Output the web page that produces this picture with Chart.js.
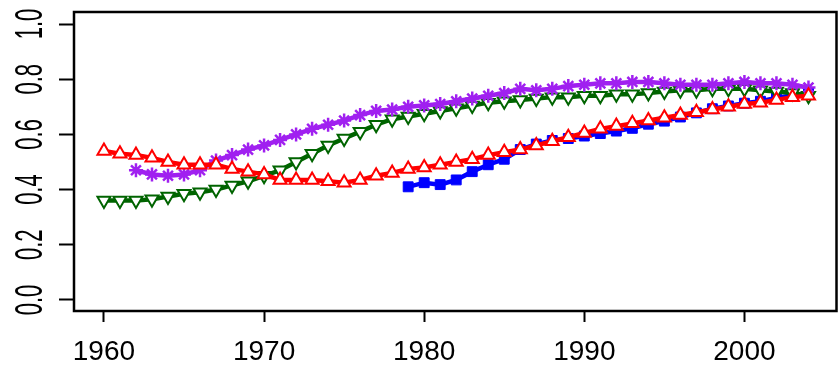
<!DOCTYPE html>
<html>
<head>
<meta charset="utf-8">
<script src="https://cdn.jsdelivr.net/npm/chart.js@4.4.1/dist/chart.umd.min.js"></script>
<style>
  html, body { margin: 0; padding: 0; background: #fff; overflow: hidden; }
  canvas { display: block; }
</style>
</head>
<body>
<canvas id="chart" width="846" height="367"></canvas>
<script>
// Four yearly series, 1960-2004 (null = no observation that year)
const years = [
  1960, 1961, 1962, 1963, 1964, 1965, 1966, 1967, 1968, 1969,
  1970, 1971, 1972, 1973, 1974, 1975, 1976, 1977, 1978, 1979,
  1980, 1981, 1982, 1983, 1984, 1985, 1986, 1987, 1988, 1989,
  1990, 1991, 1992, 1993, 1994, 1995, 1996, 1997, 1998, 1999,
  2000, 2001, 2002, 2003, 2004
];

const redSeries = [
  0.54, 0.53, 0.525, 0.515, 0.50, 0.49, 0.49, 0.49, 0.475, 0.465,
  0.455, 0.435, 0.435, 0.435, 0.43, 0.425, 0.435, 0.45, 0.46, 0.475,
  0.48, 0.49, 0.50, 0.51, 0.525, 0.535, 0.545, 0.56, 0.575, 0.59,
  0.605, 0.62, 0.63, 0.64, 0.65, 0.66, 0.67, 0.68, 0.69, 0.70,
  0.71, 0.715, 0.725, 0.735, 0.74
];

const greenSeries = [
  0.36, 0.36, 0.36, 0.365, 0.375, 0.385, 0.39, 0.40, 0.415, 0.43,
  0.45, 0.47, 0.50, 0.53, 0.56, 0.585, 0.61, 0.635, 0.655, 0.665,
  0.675, 0.685, 0.695, 0.705, 0.715, 0.72, 0.725, 0.73, 0.735, 0.735,
  0.74, 0.74, 0.745, 0.745, 0.75, 0.755, 0.76, 0.76, 0.765, 0.765,
  0.765, 0.76, 0.755, 0.75, 0.74
];

const purpleSeries = [
  null, null, 0.47, 0.455, 0.45, 0.455, 0.47, 0.505, 0.525, 0.545,
  0.56, 0.58, 0.60, 0.62, 0.635, 0.65, 0.67, 0.685, 0.69, 0.70,
  0.705, 0.71, 0.72, 0.73, 0.74, 0.75, 0.765, 0.76, 0.765, 0.775,
  0.78, 0.785, 0.785, 0.79, 0.79, 0.785, 0.78, 0.78, 0.78, 0.785,
  0.79, 0.785, 0.785, 0.78, 0.77
];

const blueSeries = [
  null, null, null, null, null, null, null, null, null, null,
  null, null, null, null, null, null, null, null, null, 0.41,
  0.425, 0.418, 0.435, 0.465, 0.49, 0.51, 0.545, 0.565, 0.578, 0.585,
  0.594, 0.603, 0.612, 0.622, 0.637, 0.648, 0.663, 0.678, 0.693, 0.703,
  0.713, 0.72, 0.732, 0.742, 0.75
];

const xTicks = [1960, 1970, 1980, 1990, 2000];
const xTickLabels = ["1960", "1970", "1980", "1990", "2000"];
const yTicks = [0, 0.2, 0.4, 0.6, 0.8, 1.0];
const yTickLabels = ["0.0", "0.2", "0.4", "0.6", "0.8", "1.0"];

function points(values) {
  return years.map((yr, i) => ({ x: yr, y: values[i] })).filter((p) => p.y != null);
}

// --- datasets (first one is drawn on top) ---
const datasets = [
  {
    data: points(redSeries),
    borderColor: "#ff0000",
    backgroundColor: "#ffffff",
    borderWidth: 4.5,
    pointStyle: "triangle",
    pointRadius: 7.5,
    pointBorderWidth: 2,
    pointBackgroundColor: "#ffffff",
  },
  {
    data: points(purpleSeries),
    borderColor: "#a020f0",
    backgroundColor: "#a020f0",
    borderWidth: 4.5,
    pointStyle: "star",
    pointRadius: 7,
    pointBorderWidth: 2.5,
  },
  {
    data: points(greenSeries),
    borderColor: "#006400",
    backgroundColor: "#ffffff",
    borderWidth: 4.5,
    pointStyle: "triangle",
    pointRotation: 180,
    pointRadius: 7.5,
    pointBorderWidth: 2,
    pointBackgroundColor: "#ffffff",
  },
  {
    data: points(blueSeries),
    borderColor: "#0000ff",
    backgroundColor: "#0000ff",
    borderWidth: 4.5,
    pointStyle: "rect",
    pointRadius: 7,
    pointBorderWidth: 1,
    pointBackgroundColor: "#0000ff",
  },
];

// frame box + tick labels (R-style)
const framePlugin = {
  id: "frame",
  afterDraw(chart) {
    const { ctx, chartArea: a, scales } = chart;
    ctx.save();
    ctx.strokeStyle = "#000";
    ctx.lineWidth = 2.5;
    ctx.strokeRect(a.left, a.top, a.right - a.left, a.bottom - a.top);

    ctx.fillStyle = "#000";
    ctx.font = '28px "Liberation Sans"';
    ctx.textAlign = "center";
    ctx.textBaseline = "alphabetic";
    xTicks.forEach((v, i) => {
      ctx.fillText(xTickLabels[i], scales.x.getPixelForValue(v), 360);
    });

    const F = 22;
    ctx.font = F + 'px "Liberation Sans"';
    yTicks.forEach((v, i) => {
      ctx.save();
      ctx.translate(28, scales.y.getPixelForValue(v));
      ctx.rotate(-Math.PI / 2);
      ctx.scale(1, 1.75);
      ctx.fillText(yTickLabels[i], 0, 0.358 * F);
      ctx.restore();
    });
    ctx.restore();
  },
};

new Chart(document.getElementById("chart"), {
  type: "line",
  data: { datasets },
  plugins: [framePlugin],
  options: {
    responsive: false,
    animation: false,
    events: [],
    layout: { padding: { top: 12, right: 3, left: 0, bottom: 0 } },
    elements: { line: { tension: 0 } },
    plugins: { legend: { display: false }, tooltip: { enabled: false } },
    scales: {
      x: {
        type: "linear",
        min: 1958.13,
        max: 2005.75,
        afterBuildTicks: (s) => { s.ticks = xTicks.map((v) => ({ value: v })); },
        afterFit: (s) => { s.height = 56; },
        ticks: { display: false },
        border: { display: false },
        grid: { drawOnChartArea: false, drawTicks: true, tickLength: 11, tickWidth: 2, color: "#000" },
      },
      y: {
        min: -0.04,
        max: 1.0435,
        afterBuildTicks: (s) => { s.ticks = yTicks.map((v) => ({ value: v })); },
        afterFit: (s) => { s.width = 74; },
        ticks: { display: false },
        border: { display: false },
        grid: { drawOnChartArea: false, drawTicks: true, tickLength: 15, tickWidth: 2, color: "#000" },
      },
    },
  },
});
</script>
</body>
</html>
